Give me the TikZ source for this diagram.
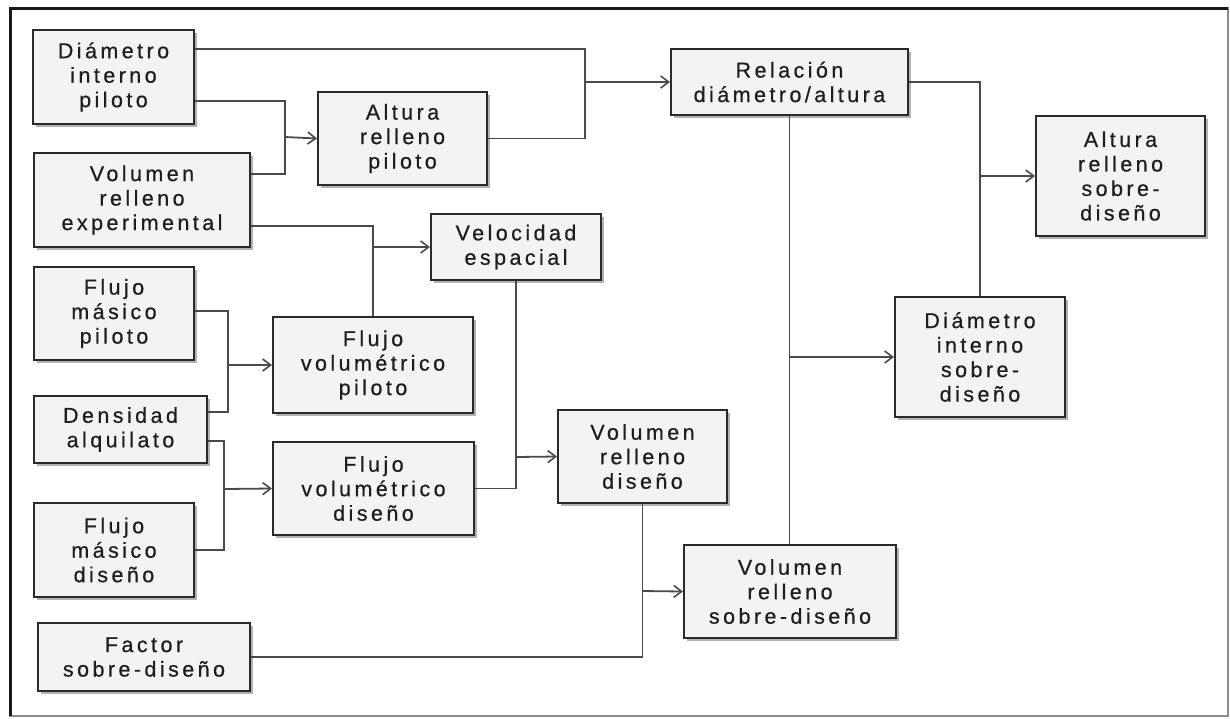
\documentclass[tikz,border=0pt]{standalone}
\usepackage{fontspec}
\setmainfont{Liberation Sans}[LetterSpace=16, FakeBold=0.6]
\usetikzlibrary{arrows.meta,shadows}
\definecolor{boxfill}{HTML}{F3F3F3}
\definecolor{boxline}{HTML}{2A2A2A}
\definecolor{conline}{HTML}{4A4A4A}
\definecolor{txt}{HTML}{1E1E1E}
\tikzset{
  box/.style={draw=boxline, line width=2pt, fill=boxfill, align=center,
    text=txt, font=\fontsize{21.5pt}{24.5pt}\selectfont, inner sep=0pt,
    drop shadow={shadow xshift=2.5pt, shadow yshift=-2.5pt, fill=black!50, opacity=0.6}},
  ln/.style={draw=conline, line width=1.8pt},
  arr/.style={ln, -{Straight Barb[length=8pt,width=12pt,line width=1.6pt]}}
}
\begin{document}
\begin{tikzpicture}[x=1pt,y=-1pt]
\useasboundingbox (0,0) rectangle (1230,718);
\fill[white] (0,0) rectangle (1230,718);
% frame
\draw[black!45, line width=1.4pt] (10,8) rectangle (1228,716);
\draw[black!90, line width=3pt] (10,716) -- (10,8) -- (1228,8);

% boxes
\node[box, minimum width=161pt, minimum height=94pt] (dip) at (113.5,77) {Diámetro\\interno\\piloto};
\node[box, minimum width=216pt, minimum height=94pt] (vre) at (142,200) {Volumen\\relleno\\experimental};
\node[box, minimum width=169pt, minimum height=93pt] (arp) at (402.5,138.5) {Altura\\relleno\\piloto};
\node[box, minimum width=237pt, minimum height=66pt] (rda) at (789.5,82) {Relación\\diámetro/altura};
\node[box, minimum width=170pt, minimum height=66pt] (ve) at (516,247) {Velocidad\\espacial};
\node[box, minimum width=169pt, minimum height=120pt] (ars) at (1120.5,176) {Altura\\relleno\\sobre-\\diseño};
\node[box, minimum width=170pt, minimum height=120pt] (dis) at (980,357) {Diámetro\\interno\\sobre-\\diseño};
\node[box, minimum width=160pt, minimum height=93pt] (fmp) at (114,313.5) {Flujo\\másico\\piloto};
\node[box, minimum width=200pt, minimum height=96pt] (fvp) at (373,365) {Flujo\\volumétrico\\piloto};
\node[box, minimum width=173pt, minimum height=67pt] (da) at (120.5,429.5) {Densidad\\alquilato};
\node[box, minimum width=201pt, minimum height=93pt] (fvd) at (373.5,488.5) {Flujo\\volumétrico\\diseño};
\node[box, minimum width=160pt, minimum height=94pt] (fmd) at (114,550) {Flujo\\másico\\diseño};
\node[box, minimum width=212pt, minimum height=68pt] (fs) at (144,657) {Factor\\sobre-diseño};
\node[box, minimum width=169pt, minimum height=93pt] (vrd) at (642.5,456.5) {Volumen\\relleno\\diseño};
\node[box, minimum width=212pt, minimum height=93pt] (vrs) at (790,591.5) {Volumen\\relleno\\sobre-diseño};

% junction coordinates
\coordinate (ja) at (585,82);
\coordinate (jb) at (285,137);
\coordinate (jc) at (373,247);
\coordinate (jd) at (228,365);
\coordinate (je) at (224,489);
\coordinate (jf) at (516,457);
\coordinate (jg) at (642.5,591);
\coordinate (jh) at (789.5,357);
\coordinate (ji) at (980,176);

% connectors
\draw[ln] (dip.east |- 0,49) -| (ja) |- (arp.east);
\draw[arr] (ja) -- (rda.west);

\draw[ln] (dip.east |- 0,101) -| (jb) |- (vre.east |- 0,174);
\draw[arr] (jb) -- (arp.west);

\draw[ln] (vre.east |- 0,226) -| (jc) -- (fvp.north);
\draw[arr] (jc) -- (ve.west);

\draw[ln] (fmp.east |- 0,311) -| (jd) |- (da.east |- 0,412);
\draw[arr] (jd) -- (fvp.west);

\draw[ln] (da.east |- 0,441) -| (je) |- (fmd.east);
\draw[arr] (je) -- (fvd.west);

\draw[ln] (ve.south) -- (jf) |- (fvd.east);
\draw[arr] (jf) -- (vrd.west);

\draw[ln] (vrd.south) -- (jg) |- (fs.east);
\draw[arr] (jg) -- (vrs.west);

\draw[ln] (rda.south) -- (jh) -- (rda.south |- vrs.north);
\draw[arr] (jh) -- (dis.west);

\draw[ln] (rda.east) -| (ji) -- (dis.north);
\draw[arr] (ji) -- (ars.west);
\end{tikzpicture}
\end{document}
